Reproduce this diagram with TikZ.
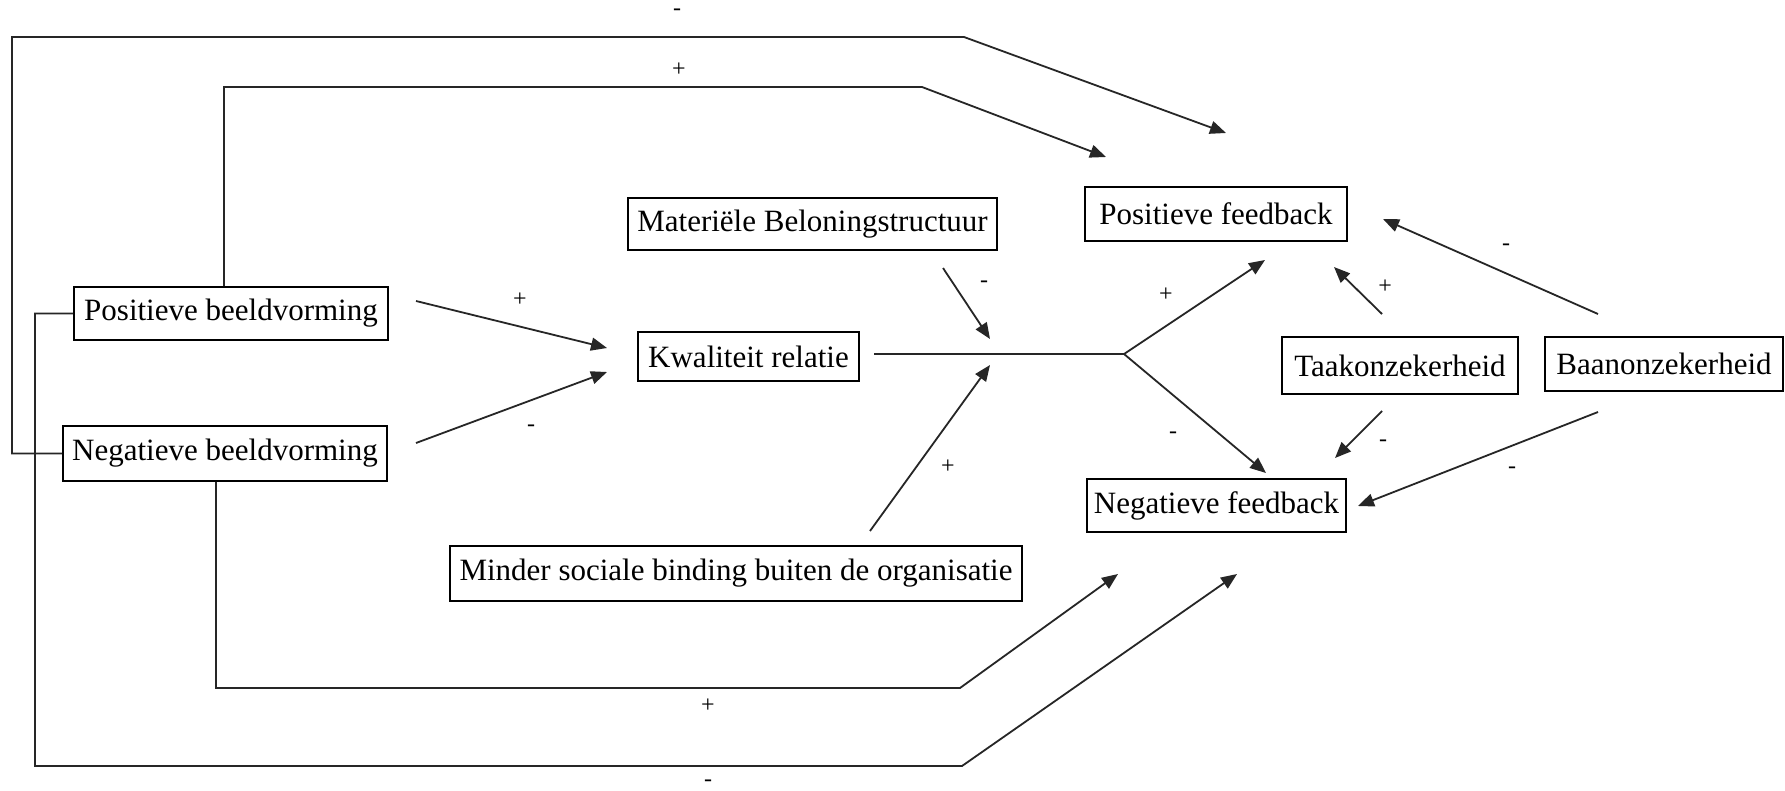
\documentclass[tikz,border=0pt]{standalone}
\usepackage{fontspec}
\setmainfont{Liberation Serif}
\usetikzlibrary{arrows.meta}
\begin{document}
\begin{tikzpicture}[x=1pt,y=-1pt,
  box/.style={draw, line width=1.8pt, inner sep=0pt, font=\fontsize{31}{37}\selectfont},
  conn/.style={line width=1.8pt, draw=black!85},
  arr/.style={conn, -{Triangle[length=16pt,width=13pt]}},
  sign/.style={font=\fontsize{24}{28}\selectfont, inner sep=0pt}]
\fill[white] (0,0) rectangle (1785,790);
\useasboundingbox (0,0) rectangle (1785,790);

% boxes
\node[box, minimum width=314pt, minimum height=53pt] (pb) at (231,313.5) {Positieve beeldvorming};
\node[box, minimum width=324pt, minimum height=55pt] (nb) at (225,453.5) {Negatieve beeldvorming};
\node[box, minimum width=369pt, minimum height=52pt] (mb) at (812.5,224) {Materiële Beloningstructuur};
\node[box, minimum width=221pt, minimum height=49pt] (kr) at (748.5,356.5) {Kwaliteit relatie};
\node[box, minimum width=572pt, minimum height=55pt] (ms) at (736,573.5) {Minder sociale binding buiten de organisatie};
\node[box, minimum width=262pt, minimum height=54pt] (pf) at (1216,214) {Positieve feedback};
\node[box, minimum width=259pt, minimum height=53pt] (nf) at (1216.5,505.5) {Negatieve feedback};
\node[box, minimum width=236pt, minimum height=57pt] (tz) at (1400,365.5) {Taakonzekerheid};
\node[box, minimum width=238pt, minimum height=54pt] (bz) at (1664,364) {Baanonzekerheid};

% coordinates
\coordinate (o1) at (12,37);
\coordinate (o2) at (964,37);
\coordinate (o3) at (1226,133);
\coordinate (i1) at (224,87);
\coordinate (i2) at (922,87);
\coordinate (i3) at (1106,157);
\coordinate (b1) at (35,766);
\coordinate (b2) at (962,766);
\coordinate (b3) at (1237,574);
\coordinate (c1) at (216,688);
\coordinate (c2) at (960,688);
\coordinate (c3) at (1118,574);
\coordinate (pbs) at (416,301);
\coordinate (krt1) at (607,348);
\coordinate (nbs) at (416,443);
\coordinate (krt2) at (607,372);
\coordinate (krs) at (874,354);
\coordinate (br) at (1124,354);
\coordinate (pft) at (1265,260);
\coordinate (nft) at (1266,473);
\coordinate (mbs) at (943,268);
\coordinate (mbt) at (990,339);
\coordinate (mss) at (870,531);
\coordinate (mst) at (990,365);
\coordinate (tzs1) at (1382,314);
\coordinate (tzt1) at (1334,267);
\coordinate (bzs1) at (1598,314);
\coordinate (bzt1) at (1383,219);
\coordinate (tzs2) at (1382,411);
\coordinate (tzt2) at (1335,458);
\coordinate (bzs2) at (1598,412);
\coordinate (bzt2) at (1358,506);

% long connectors
\draw[arr] (nb.west) -| (o1) -- (o2) -- (o3);
\draw[arr] ([xshift=-7pt]pb.north) -- (i1) -- (i2) -- (i3);
\draw[arr] (pb.west) -| (b1) -- (b2) -- (b3);
\draw[arr] ([xshift=-9pt]nb.south) -- (c1) -- (c2) -- (c3);

% middle connectors
\draw[arr] (pbs) -- (krt1);
\draw[arr] (nbs) -- (krt2);
\draw[conn] (krs) -- (br);
\draw[arr] (br) -- (pft);
\draw[arr] (br) -- (nft);
\draw[arr] (mbs) -- (mbt);
\draw[arr] (mss) -- (mst);
\draw[arr] (tzs1) -- (tzt1);
\draw[arr] (bzs1) -- (bzt1);
\draw[arr] (tzs2) -- (tzt2);
\draw[arr] (bzs2) -- (bzt2);

% signs
\node[sign] (s1) at (677,12) {-};
\node[sign] (s2) at (679,70) {+};
\node[sign] (s3) at (708,706) {+};
\node[sign] (s4) at (708,783) {-};
\node[sign] (s5) at (520,300) {+};
\node[sign] (s6) at (531,428) {-};
\node[sign] (s7) at (1166,295) {+};
\node[sign] (s8) at (1173,435) {-};
\node[sign] (s9) at (984,284) {-};
\node[sign] (s10) at (948,467) {+};
\node[sign] (s11) at (1385,287) {+};
\node[sign] (s12) at (1506,247) {-};
\node[sign] (s13) at (1383,443) {-};
\node[sign] (s14) at (1512,470) {-};
\end{tikzpicture}
\end{document}
